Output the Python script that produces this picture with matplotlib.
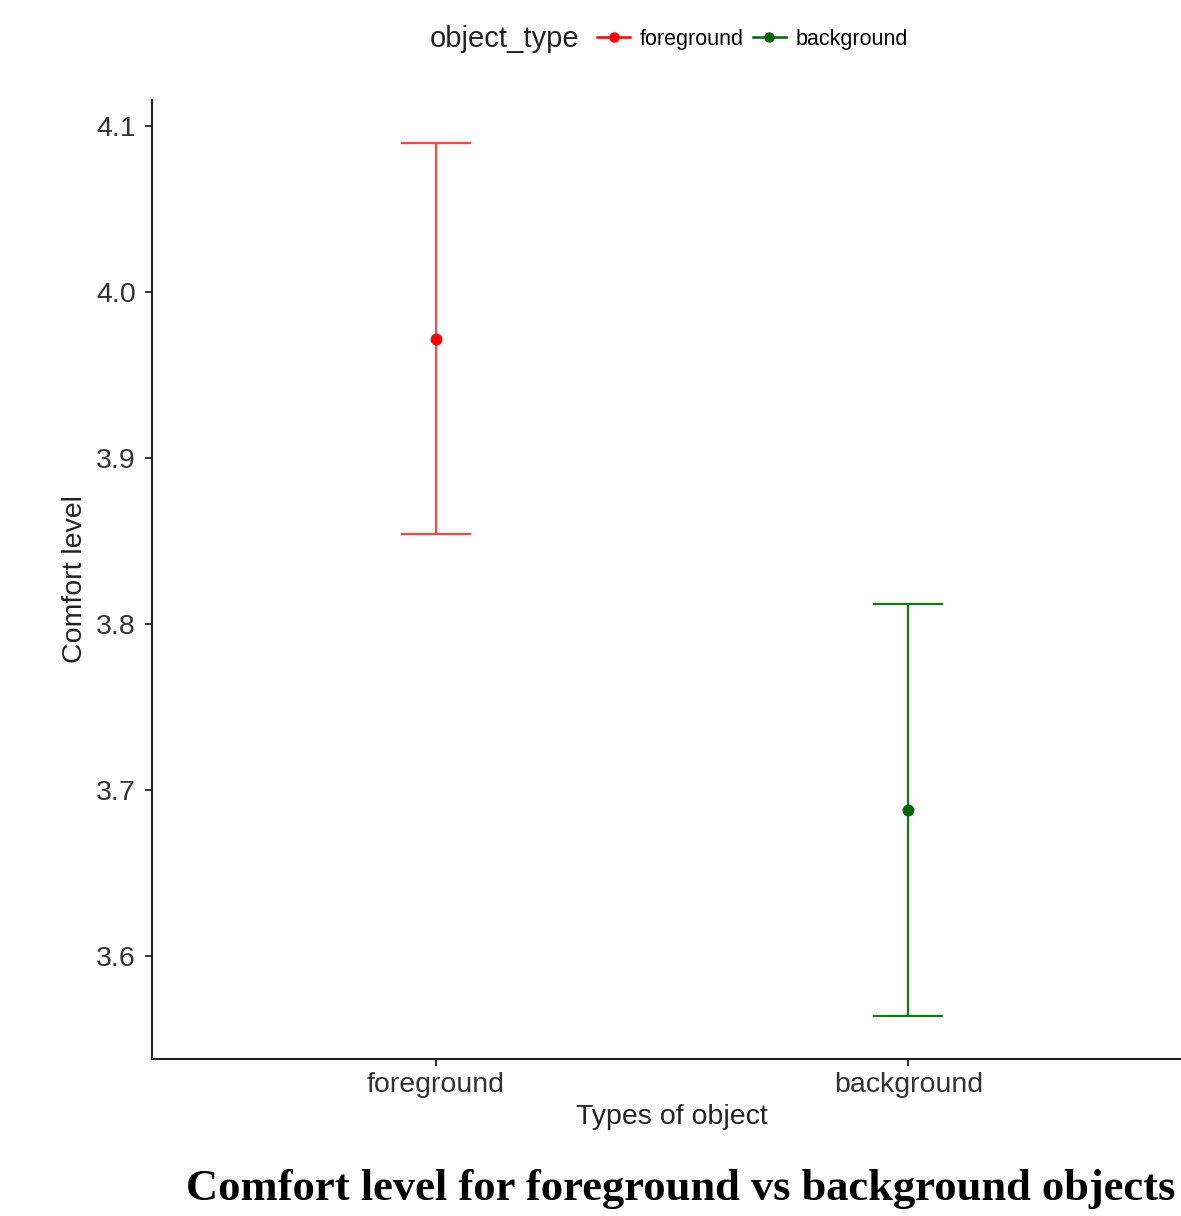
import matplotlib.pyplot as plt
from matplotlib.lines import Line2D

# data
object_types = ['foreground', 'background']
comfort_mean = [3.972, 3.688]
ci_lower = [3.854, 3.564]
ci_upper = [4.090, 3.812]
point_colors = ['red', 'darkgreen']
bar_colors = ['#ff4545', '#107a10']

plt.rcParams['font.family'] = ['Liberation Sans', 'DejaVu Sans']

W, H = 1181, 1216
fig = plt.figure(figsize=(W / 100, H / 100), dpi=100)

# axes placed in pixel terms (right edge runs past the figure, as in the source)
left, right, top, bottom = 152, 1192, 100, 1059
ax = fig.add_axes([left / W, 1 - bottom / H, (right - left) / W, (bottom - top) / H])

x = list(range(1, len(object_types) + 1))
for xi, m, lo, hi, pc, bc in zip(x, comfort_mean, ci_lower, ci_upper,
                                 point_colors, bar_colors):
    ax.errorbar([xi], [m], yerr=[[m - lo], [hi - m]], fmt='none', ecolor=bc,
                elinewidth=1.6, capsize=25.5, capthick=1.6)
    ax.plot([xi], [m], 'o', color=pc, markersize=7.5)

ax.set_xlim(0.4, 2.6)
ax.set_ylim(3.538, 4.1157)
ax.set_xticks(x)
ax.set_xticklabels(object_types)
ax.set_yticks([3.6, 3.7, 3.8, 3.9, 4.0, 4.1])
ax.set_yticklabels(['3.6', '3.7', '3.8', '3.9', '4.0', '4.1'])

for s in ['top', 'right']:
    ax.spines[s].set_visible(False)
for s in ['left', 'bottom']:
    ax.spines[s].set_linewidth(1.5)
    ax.spines[s].set_color('#222222')
ax.tick_params(axis='both', length=5, width=1.3, colors='#222222',
               labelsize=20.5, labelcolor='#333333')
ax.tick_params(axis='x', pad=4)
ax.tick_params(axis='y', pad=6.5)

ax.set_xlabel('Types of object', fontsize=20.5, color='#222222')
ax.set_ylabel('Comfort level', fontsize=20.5, color='#222222')
ax.xaxis.set_label_coords(0.5, (bottom - 1104) / (bottom - top))
ax.yaxis.set_label_coords((88 - left) / (right - left), 0.5)

# legend across the top
fig.text(430 / W, 1 - 47 / H, 'object_type', fontsize=21, color='#222222',
         ha='left', va='baseline')
handles = [Line2D([0], [0], color=c, lw=1.8, marker='o', markersize=6.5)
           for c in point_colors]
fig.legend(handles, object_types, ncols=2, frameon=False, fontsize=15.5,
           loc='center left', bbox_to_anchor=(597 / W, 1 - 39 / H),
           handlelength=1.55, handletextpad=0.45, columnspacing=0.4,
           borderaxespad=0, borderpad=0)

# caption below
fig.text(186 / W, 1 - 1200 / H, 'Comfort level for foreground vs background objects',
         family=['Liberation Serif', 'DejaVu Serif'], fontweight='bold',
         fontsize=32, color='black', ha='left', va='baseline')

fig.savefig('out.png', dpi=100)
